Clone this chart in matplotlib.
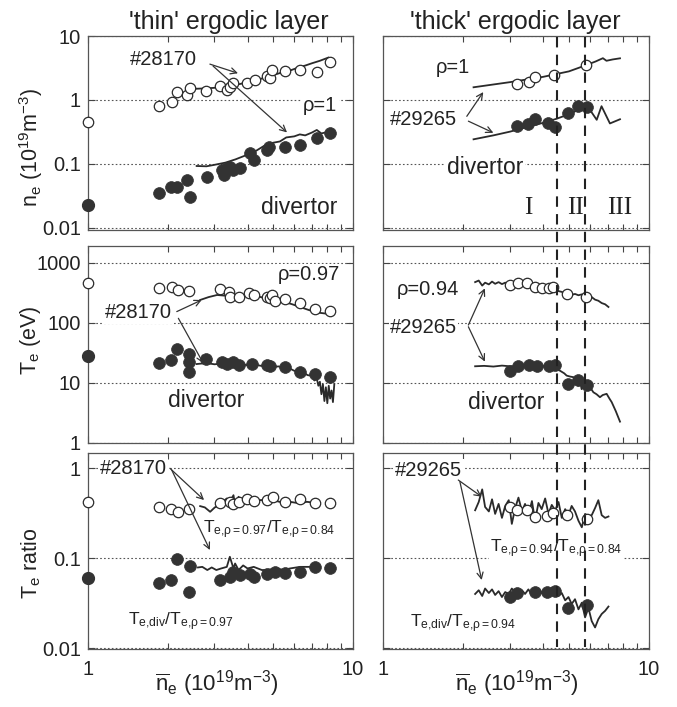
import matplotlib
matplotlib.use("Agg")
import matplotlib.pyplot as plt
import matplotlib.transforms as mtransforms
from matplotlib.ticker import LogLocator, NullFormatter, NullLocator

plt.rcParams['font.family'] = ['Liberation Sans', 'DejaVu Sans']
plt.rcParams['mathtext.fontset'] = 'custom'
plt.rcParams['mathtext.rm'] = 'Liberation Sans'
plt.rcParams['mathtext.it'] = 'Liberation Sans'
plt.rcParams['mathtext.bf'] = 'Liberation Sans:bold'

# ---------------- data ----------------
# reference values drawn at ne_bar = 1 on the left axis (rows: ne, Te, ratio)
edge_open_y = [0.45, 464, 0.42]
edge_filled_y = [0.023, 28, 0.06]

# 'thin' layer, #28170 -- density
thin_ne_sep_x = [1.86, 2.07, 2.17, 2.37, 2.43, 2.80, 3.15, 3.34, 3.43, 3.54, 3.97, 4.27, 4.72, 4.86, 4.93, 5.54, 6.31, 7.29, 8.19]
thin_ne_sep_y = [0.81, 0.94, 1.35, 1.20, 1.52, 1.40, 1.65, 1.43, 1.62, 1.87, 1.82, 2.05, 2.37, 2.18, 2.94, 2.87, 2.94, 2.77, 3.97]
thin_ne_div_x = [1.86, 2.06, 2.16, 2.37, 2.43, 2.82, 3.19, 3.26, 3.34, 3.43, 3.54, 3.75, 4.08, 4.22, 4.72, 4.80, 5.54, 6.31, 7.29, 8.19]
thin_ne_div_y = [0.0356, 0.043, 0.044, 0.056, 0.031, 0.063, 0.081, 0.067, 0.086, 0.091, 0.081, 0.086, 0.147, 0.115, 0.166, 0.187, 0.187, 0.198, 0.252, 0.302]
thin_ne_sep_line_x = [2.57, 2.8, 3.0, 3.25, 3.5, 3.75, 4.0, 4.3, 4.6, 5.0, 5.4, 5.8, 6.2, 6.6, 7.0, 7.5, 8.07]
thin_ne_sep_line_y = [1.5, 1.52, 1.55, 1.62, 1.70, 1.78, 1.9, 2.05, 2.2, 2.45, 2.7, 2.9, 3.2, 3.45, 3.75, 4.1, 4.6]
thin_ne_div_line_x = [2.57, 2.8, 3.0, 3.3, 3.6, 4.0, 4.3, 4.6, 5.0, 5.3, 5.6, 6.0, 6.3, 6.6, 7.0, 7.3, 7.6, 8.07]
thin_ne_div_line_y = [0.093, 0.092, 0.097, 0.105, 0.118, 0.14, 0.16, 0.19, 0.215, 0.225, 0.26, 0.27, 0.29, 0.28, 0.31, 0.34, 0.30, 0.32]

# 'thin' layer -- temperature
thin_te_sep_x = [1.86, 2.07, 2.19, 2.40, 3.15, 3.40, 3.43, 3.70, 4.05, 4.22, 4.72, 4.86, 4.93, 5.08, 5.54, 6.31, 7.20, 8.19]
thin_te_sep_y = [378, 403, 355, 341, 365, 333, 275, 268, 312, 293, 275, 258, 293, 233, 248, 213, 169, 158]
thin_te_div_x = [1.86, 2.06, 2.16, 2.40, 2.40, 2.40, 2.80, 3.19, 3.34, 3.54, 3.70, 4.15, 4.72, 4.86, 5.54, 6.31, 7.20, 8.19]
thin_te_div_y = [21.5, 24.5, 36.9, 30.4, 22.2, 15.4, 25.1, 22.2, 20.7, 22.2, 20.0, 20.7, 20.0, 19.0, 18.3, 15.4, 14.1, 12.5]
thin_te_sep_line_x = [2.65, 2.85, 3.07, 3.3, 3.54, 3.8, 4.1, 4.4, 4.72, 5.1, 5.46, 5.9, 6.31, 6.8, 7.29, 7.85]
thin_te_sep_line_y = [242, 270, 293, 285, 281, 290, 293, 275, 258, 245, 227, 205, 185, 165, 150, 144]
thin_te_div_line_x = [2.57, 2.8, 3.0, 3.25, 3.5, 3.75, 4.0, 4.25, 4.5, 4.75, 5.0, 5.25, 5.5, 5.75, 6.0, 6.25, 6.5, 6.75,
                      7.0, 7.15, 7.3, 7.4, 7.5, 7.6, 7.7, 7.8, 7.9, 8.0, 8.1, 8.2, 8.3, 8.4, 8.5]
thin_te_div_line_y = [20.7, 21.5, 20.5, 21.2, 20.0, 20.8, 19.8, 20.4, 19.3, 19.8, 18.6, 18.9, 17.2, 17.6, 16.0, 15.5, 14.8, 13.5,
                      13.2, 11.0, 12.0, 9.0, 10.5, 6.5, 9.5, 5.0, 8.5, 4.6, 9.0, 5.5, 7.5, 4.8, 9.5]

# 'thin' layer -- temperature ratios
thin_rat_sep_x = [1.86, 2.06, 2.19, 2.40, 3.15, 3.43, 3.54, 3.70, 3.97, 4.22, 4.72, 5.00, 5.54, 6.31, 7.20, 8.19]
thin_rat_sep_y = [0.372, 0.35, 0.327, 0.35, 0.405, 0.422, 0.398, 0.422, 0.449, 0.434, 0.441, 0.472, 0.422, 0.449, 0.412, 0.405]
thin_rat_div_x = [1.86, 2.06, 2.16, 2.40, 2.43, 3.15, 3.43, 3.54, 3.75, 4.10, 4.22, 4.72, 5.08, 5.54, 6.31, 7.20, 8.19]
thin_rat_div_y = [0.0532, 0.0568, 0.099, 0.0416, 0.0815, 0.0568, 0.062, 0.0706, 0.0647, 0.0675, 0.062, 0.0675, 0.0706, 0.0687, 0.0706, 0.080, 0.077]
thin_rat_sep_line_x = [2.65, 2.76, 2.89, 3.01, 3.15, 3.25, 3.34, 3.43, 3.54, 3.59, 3.70, 3.85, 3.97, 4.10, 4.22, 4.53, 4.72, 5.15, 5.46, 5.78, 6.31, 6.69, 7.20]
thin_rat_sep_line_y = [0.378, 0.366, 0.327, 0.366, 0.388, 0.43, 0.46, 0.422, 0.50, 0.388, 0.48, 0.405, 0.46, 0.422, 0.441, 0.441, 0.422, 0.43, 0.412, 0.422, 0.405, 0.422, 0.412]
thin_rat_div_line_x = [2.60, 2.70, 2.82, 2.93, 3.05, 3.18, 3.34, 3.43, 3.54, 3.59, 3.70, 3.85, 4.00, 4.22, 4.53, 4.72, 5.15, 5.46, 5.78, 6.31, 6.69, 7.20]
thin_rat_div_line_y = [0.0788, 0.080, 0.0738, 0.0788, 0.0738, 0.0768, 0.080, 0.1035, 0.0768, 0.0872, 0.0738, 0.083, 0.0768, 0.080, 0.0738, 0.0738, 0.0768, 0.0738, 0.0768, 0.080, 0.080, 0.080]

# 'thick' layer, #29265 -- density
thick_ne_sep_x = [3.18, 3.54, 3.73, 4.40, 5.80]
thick_ne_sep_y = [1.78, 1.93, 2.26, 2.46, 3.52]
thick_ne_div_x = [3.18, 3.51, 3.73, 4.17, 4.43, 4.98, 5.42, 5.83]
thick_ne_div_y = [0.39, 0.42, 0.50, 0.44, 0.38, 0.63, 0.81, 0.77]
thick_ne_sep_line_x = [2.19, 3.0, 4.0, 5.0, 5.8, 6.3, 6.71, 6.92, 7.3, 7.78]
thick_ne_sep_line_y = [1.58, 1.9, 2.3, 2.8, 3.5, 4.0, 4.5, 4.1, 4.3, 4.48]
thick_ne_div_line_x = [2.19, 2.6, 3.0, 3.5, 4.0, 4.5, 5.0, 5.5, 5.83, 6.0, 6.36, 6.63, 7.13, 7.78]
thick_ne_div_line_y = [0.243, 0.28, 0.32, 0.38, 0.44, 0.51, 0.60, 0.72, 0.81, 0.70, 0.49, 0.80, 0.43, 0.50]

# 'thick' layer -- temperature
thick_te_sep_x = [3.00, 3.22, 3.47, 3.73, 3.95, 4.19, 4.37, 4.90, 5.80]
thick_te_sep_y = [430, 459, 470, 405, 385, 385, 405, 305, 275]
thick_te_div_x = [3.00, 3.22, 3.55, 3.78, 4.19, 4.43, 4.98, 5.42, 5.83]
thick_te_div_y = [16.0, 19.4, 19.9, 19.0, 19.0, 19.9, 9.6, 11.3, 9.3]
thick_line_x = [2.22, 2.29, 2.36, 2.42, 2.50, 2.57, 2.64, 2.72, 2.80, 2.88, 2.97, 3.05, 3.14, 3.23, 3.33, 3.42, 3.52,
                3.63, 3.73, 3.84, 3.95, 4.07, 4.19, 4.31, 4.44, 4.57, 4.70, 4.84, 4.98, 5.12, 5.27, 5.43, 5.59, 5.75,
                5.92, 6.09, 6.27, 6.45, 6.64, 6.84, 7.04]
thick_te_sep_line_y = [480, 510, 420, 470, 440, 490, 450, 480, 445, 470, 455, 430, 470, 445, 460, 420, 450,
                       410, 430, 395, 420, 380, 400, 365, 380, 340, 330, 310, 320, 295, 305, 290, 300, 285,
                       265, 270, 245, 235, 215, 205, 185]
thick_te_div_line_x = [2.22, 2.4, 2.6, 2.8, 3.0, 3.2, 3.4, 3.6, 3.8, 4.0, 4.2, 4.37, 4.5, 4.63, 4.8, 4.9, 5.05, 5.2,
                       5.32, 5.42, 5.5, 5.58, 5.67, 5.75, 5.85, 6.0, 6.18, 6.35, 6.54, 6.7, 6.93, 7.1, 7.24, 7.5, 7.78]
thick_te_div_line_y = [19.0, 19.3, 18.8, 19.5, 19.0, 18.6, 19.4, 19.0, 19.6, 19.0, 19.4, 19.4, 17.0, 16.0, 14.5, 13.3,
                       12.8, 12.5, 10.5, 9.0, 11.0, 7.9, 9.5, 10.2, 8.0, 8.5, 7.0, 6.5, 5.8, 6.3, 6.6, 5.5, 4.8, 3.4, 2.27]

# 'thick' layer -- temperature ratios
thick_rat_sep_x = [3.00, 3.18, 3.47, 3.73, 4.12, 4.37, 4.90, 5.83]
thick_rat_sep_y = [0.372, 0.341, 0.341, 0.283, 0.292, 0.314, 0.300, 0.270]
thick_rat_div_x = [3.00, 3.18, 3.73, 4.12, 4.43, 4.98, 5.83]
thick_rat_div_y = [0.0372, 0.0405, 0.0422, 0.0422, 0.0434, 0.0276, 0.030]
thick_rat_sep_line_y = [0.34, 0.42, 0.58, 0.37, 0.33, 0.45, 0.31, 0.40, 0.28, 0.38, 0.44, 0.24, 0.36, 0.47, 0.33, 0.40, 0.30,
                        0.43, 0.26, 0.41, 0.35, 0.46, 0.31, 0.39, 0.34, 0.42, 0.28, 0.35, 0.30, 0.38, 0.33, 0.26, 0.22, 0.31,
                        0.29, 0.30, 0.36, 0.44, 0.30, 0.28, 0.29]
thick_rat_div_line_y = [0.040, 0.044, 0.038, 0.046, 0.041, 0.045, 0.039, 0.043, 0.037, 0.042, 0.040, 0.046, 0.041, 0.038,
                        0.044, 0.040, 0.045, 0.039, 0.043, 0.046, 0.041, 0.045, 0.042, 0.047, 0.043, 0.038, 0.041, 0.034,
                        0.037, 0.031, 0.035, 0.027, 0.032, 0.022, 0.028, 0.020, 0.017, 0.021, 0.024, 0.026, 0.029]

# regime boundaries I | II | III
regime_bounds = [4.5, 5.75]

row_ylims = [(0.0093, 10), (1, 1920), (0.0098, 1.47)]
row_yticks = [[0.01, 0.1, 1, 10], [1, 10, 100, 1000], [0.01, 0.1, 1]]
row_yticklabels = [['0.01', '0.1', '1', '10'], ['1', '10', '100', '1000'], ['0.01', '0.1', '1']]
row_ylabels = [r'n$_\mathrm{e}$ (10$^{19}$m$^{-3}$)', r'T$_\mathrm{e}$ (eV)', r'T$_\mathrm{e}$ ratio']
xlabel = r'$\overline{\mathrm{n}}_\mathrm{e}$ (10$^{19}$m$^{-3}$)'

LINE = '#2a2a2a'
DOT = '#333333'

W, H = 677, 707
fig = plt.figure(figsize=(W / 100, H / 100), dpi=100)


def rect(left, top, right, bottom):
    return [left / W, 1 - bottom / H, (right - left) / W, (bottom - top) / H]


col_px = [(88, 353), (383, 649)]
row_px = [(36, 230), (246, 443), (453, 649)]
axes = [[fig.add_axes(rect(c[0], r[0], c[1], r[1])) for c in col_px] for r in row_px]

for i in range(3):
    for j in range(2):
        ax = axes[i][j]
        ax.set_xscale('log')
        ax.set_yscale('log')
        ax.set_xlim(1, 10)
        ax.set_ylim(*row_ylims[i])
        ax.set_yticks(row_yticks[i])
        ax.set_yticklabels(row_yticklabels[i] if j == 0 else [])
        ax.yaxis.set_minor_locator(NullLocator())
        ax.set_xticks([1, 10])
        ax.set_xticklabels(['1', '10'] if i == 2 else ['', ''])
        ax.xaxis.set_minor_locator(LogLocator(base=10, subs=range(2, 10)))
        ax.xaxis.set_minor_formatter(NullFormatter())
        ax.tick_params(which='both', direction='in', top=True, right=True, color='#444')
        ax.tick_params(which='major', length=5, width=0.8, labelsize=14.5, pad=5, labelcolor='#222')
        ax.tick_params(axis='x', which='major', pad=8)
        ax.tick_params(which='minor', length=4, width=0.8)
        ax.grid(axis='y', which='major', ls=(0, (1.5, 2)), lw=0.8, color='#555')
        for sp in ax.spines.values():
            sp.set_color('#555')
            sp.set_linewidth(0.9)


def draw(ax, ox, oy, fx, fy, lines):
    for lx, ly in lines:
        ax.plot(lx, ly, color=LINE, lw=1.3, zorder=3)
    ax.plot(ox, oy, 'o', ms=7.5, mfc='white', mec=LINE, mew=0.9, zorder=4)
    ax.plot(fx, fy, 'o', ms=8.5, mfc=DOT, mec=DOT, mew=0.5, zorder=4)


draw(axes[0][0], thin_ne_sep_x, thin_ne_sep_y, thin_ne_div_x, thin_ne_div_y,
     [(thin_ne_sep_line_x, thin_ne_sep_line_y), (thin_ne_div_line_x, thin_ne_div_line_y)])
draw(axes[1][0], thin_te_sep_x, thin_te_sep_y, thin_te_div_x, thin_te_div_y,
     [(thin_te_sep_line_x, thin_te_sep_line_y), (thin_te_div_line_x, thin_te_div_line_y)])
draw(axes[2][0], thin_rat_sep_x, thin_rat_sep_y, thin_rat_div_x, thin_rat_div_y,
     [(thin_rat_sep_line_x, thin_rat_sep_line_y), (thin_rat_div_line_x, thin_rat_div_line_y)])
draw(axes[0][1], thick_ne_sep_x, thick_ne_sep_y, thick_ne_div_x, thick_ne_div_y,
     [(thick_ne_sep_line_x, thick_ne_sep_line_y), (thick_ne_div_line_x, thick_ne_div_line_y)])
draw(axes[1][1], thick_te_sep_x, thick_te_sep_y, thick_te_div_x, thick_te_div_y,
     [(thick_line_x, thick_te_sep_line_y), (thick_te_div_line_x, thick_te_div_line_y)])
draw(axes[2][1], thick_rat_sep_x, thick_rat_sep_y, thick_rat_div_x, thick_rat_div_y,
     [(thick_line_x, thick_rat_sep_line_y), (thick_line_x, thick_rat_div_line_y)])

# reference points on the left axis
for i in range(3):
    ax = axes[i][0]
    ax.plot([1], [edge_open_y[i]], 'o', ms=7.5, mfc='white', mec=LINE, mew=0.9, clip_on=False, zorder=5)
    ax.plot([1], [edge_filled_y[i]], 'o', ms=8.5, mfc=DOT, mec=DOT, clip_on=False, zorder=5)

# annotations
TXT = dict(fontsize=14.5, color='#222', bbox=dict(fc='white', ec='none', pad=1.0), zorder=6)
ARR = dict(arrowstyle='->', lw=0.9, color='#333', shrinkA=0, shrinkB=0, mutation_scale=11)


def label(ax, x, y, s, ha='left', va='center', **kw):
    opts = dict(TXT)
    opts.update(kw)
    ax.text(x, y, s, transform=ax.transAxes, ha=ha, va=va, **opts)


def arrow(ax, tail, head):
    ax.annotate('', xy=head, xytext=tail, xycoords='axes fraction', textcoords='axes fraction',
                arrowprops=ARR, zorder=6)


RAT = 12.5
ax = axes[0][0]
label(ax, 0.158, 0.881, '#28170')
arrow(ax, (0.46, 0.855), (0.566, 0.808))
arrow(ax, (0.472, 0.845), (0.751, 0.503))
label(ax, 0.94, 0.642, 'ρ=1', ha='right')
label(ax, 0.94, 0.114, 'divertor', ha='right', fontsize=16.5)

ax = axes[1][0]
label(ax, 0.064, 0.66, '#28170')
arrow(ax, (0.335, 0.667), (0.429, 0.726))
arrow(ax, (0.341, 0.633), (0.435, 0.405))
label(ax, 0.951, 0.853, 'ρ=0.97', ha='right')
label(ax, 0.302, 0.218, 'divertor', fontsize=16.5)

ax = axes[2][0]
label(ax, 0.045, 0.923, '#28170')
arrow(ax, (0.309, 0.922), (0.438, 0.760))
arrow(ax, (0.316, 0.913), (0.46, 0.505))
label(ax, 0.434, 0.592, r'$\mathrm{T}_{\mathrm{e{,}\rho=0.97}}/\mathrm{T}_{\mathrm{e{,}\rho=0.84}}$',
      va='baseline', bbox=None, fontsize=RAT)
label(ax, 0.151, 0.122, r'$\mathrm{T}_{\mathrm{e{,}div}}/\mathrm{T}_{\mathrm{e{,}\rho=0.97}}$',
      va='baseline', bbox=None, fontsize=RAT)

ax = axes[0][1]
label(ax, 0.327, 0.839, 'ρ=1', ha='right')
label(ax, 0.026, 0.57, '#29265')
arrow(ax, (0.315, 0.586), (0.377, 0.711))
arrow(ax, (0.321, 0.561), (0.415, 0.501))
label(ax, 0.24, 0.321, 'divertor', fontsize=16.5)
for xf, s in zip([0.545, 0.722, 0.891], ['I', 'II', 'III']):
    ax.text(xf, 0.114, s, transform=ax.transAxes, ha='center', va='center',
            fontsize=18, family='Liberation Serif', color='#222')

ax = axes[1][1]
label(ax, 0.053, 0.777, 'ρ=0.94')
label(ax, 0.026, 0.584, '#29265')
arrow(ax, (0.321, 0.599), (0.383, 0.785))
arrow(ax, (0.321, 0.59), (0.383, 0.413))
label(ax, 0.32, 0.208, 'divertor', fontsize=16.5)

ax = axes[2][1]
label(ax, 0.045, 0.913, '#29265')
arrow(ax, (0.283, 0.862), (0.371, 0.777))
arrow(ax, (0.289, 0.854), (0.371, 0.352))
label(ax, 0.402, 0.495, r'$\mathrm{T}_{\mathrm{e{,}\rho=0.94}}/\mathrm{T}_{\mathrm{e{,}\rho=0.84}}$',
      va='baseline', fontsize=RAT)
label(ax, 0.10, 0.112, r'$\mathrm{T}_{\mathrm{e{,}div}}/\mathrm{T}_{\mathrm{e{,}\rho=0.94}}$',
      va='baseline', bbox=None, fontsize=RAT)

# dashed regime boundaries running through the whole right column
tr = mtransforms.blended_transform_factory(axes[0][1].transData, fig.transFigure)
for xb in regime_bounds:
    fig.add_artist(plt.Line2D([xb, xb], [1 - 37 / H, 1 - 647 / H], transform=tr,
                              color='#222', lw=1.5, ls=(0, (5, 3.5))))

# titles and axis labels
fig.text(229 / W, 1 - 29 / H, "'thin' ergodic layer", ha='center', va='baseline', fontsize=18, color='#222')
fig.text(515 / W, 1 - 29 / H, "'thick' ergodic layer", ha='center', va='baseline', fontsize=18, color='#222')
for i, yc in enumerate([147, 340, 563]):
    fig.text(31 / W, 1 - yc / H, row_ylabels[i], rotation=90, ha='center', va='center', fontsize=15.5, color='#222')
for xc in [217, 517]:
    fig.text(xc / W, 1 - 668 / H, xlabel, ha='center', va='top', fontsize=16, color='#222')

fig.savefig('out.png', dpi=100)
